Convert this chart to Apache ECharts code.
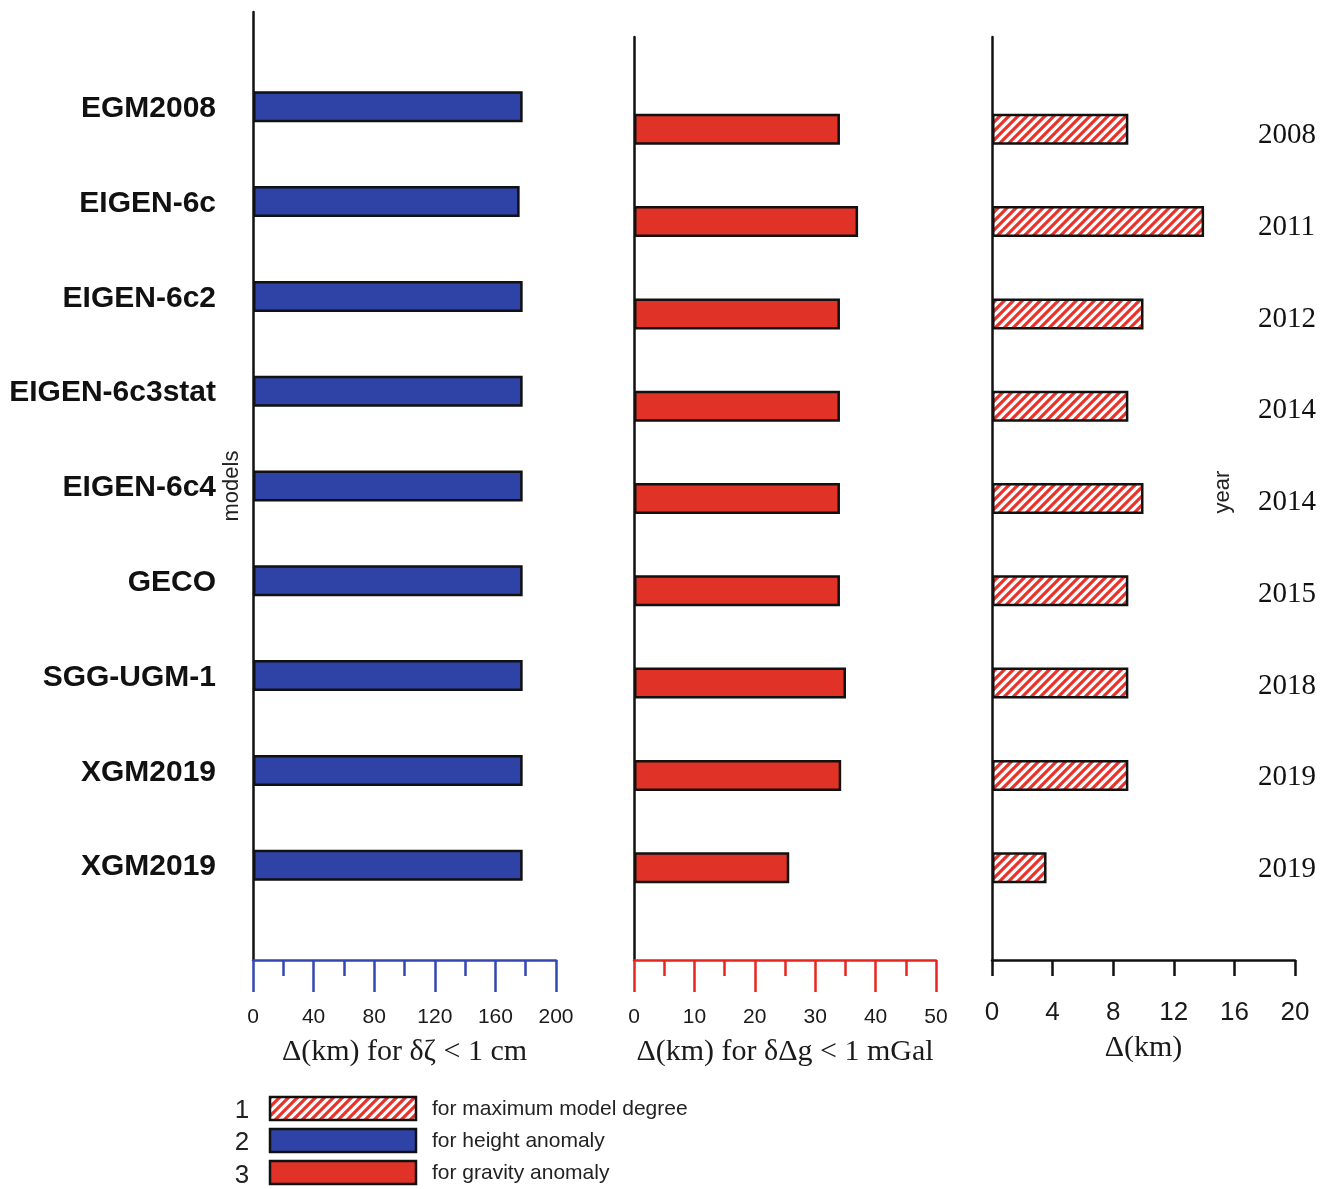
<!DOCTYPE html>
<html>
<head>
<meta charset="utf-8">
<title>Model comparison</title>
<script src="https://cdn.jsdelivr.net/npm/echarts@6/dist/echarts.min.js"></script>
<style>
  html, body { margin: 0; padding: 0; background: #fff; }
  #chart { width: 1334px; height: 1189px; }
</style>
</head>
<body>
<div id="chart"></div>
<script>
// Gravity field models and release years
const models = ['EGM2008', 'EIGEN-6c', 'EIGEN-6c2', 'EIGEN-6c3stat', 'EIGEN-6c4', 'GECO', 'SGG-UGM-1', 'XGM2019', 'XGM2019'];
const years = ['2008', '2011', '2012', '2014', '2014', '2015', '2018', '2019', '2019'];

// Δ(km) for height anomaly (δζ < 1 cm)
const heightAnomaly = [178, 176, 178, 178, 178, 178, 178, 178, 178];
// Δ(km) for gravity anomaly (δΔg < 1 mGal)
const gravityAnomaly = [34.1, 37.1, 34.1, 34.1, 34.1, 34.1, 35.1, 34.3, 25.7];
// Δ(km) for maximum model degree
const maxDegree = [9.0, 14.0, 10.0, 9.0, 10.0, 9.0, 9.0, 9.0, 3.6];

// Tick labels
const heightTicks = [0, 40, 80, 120, 160, 200];
const gravityTicks = [0, 10, 20, 30, 40, 50];
const degreeTicks = [0, 4, 8, 12, 16, 20];

const BLUE = '#2f43a6';
const RED = '#e03226';
const EDGE = '#111';

// Empty slot above and below the models on each category axis
const pad = arr => [''].concat(arr, ['']);
const padVals = arr => [null].concat(arr, [null]);

// Diagonal red hatch tile
function hatchCanvas() {
  const s = 9;
  const c = document.createElement('canvas');
  c.width = s; c.height = s;
  const g = c.getContext('2d');
  g.fillStyle = '#fff';
  g.fillRect(0, 0, s, s);
  g.strokeStyle = '#e8322a';
  g.lineWidth = 3.2;
  g.beginPath();
  g.moveTo(-s, 2 * s); g.lineTo(2 * s, -s);
  g.moveTo(-2 * s, 2 * s); g.lineTo(s, -s);
  g.moveTo(0, 2 * s); g.lineTo(3 * s, -s);
  g.stroke();
  return c;
}
const hatch = hatchCanvas();

const chart = echarts.init(document.getElementById('chart'), null, { renderer: 'canvas' });

const serif = "'Liberation Serif', 'DejaVu Serif', serif";
const sans = "'Liberation Sans', Arial, sans-serif";

function valueAxis(gridIndex, ticks, color, withMinor, tickLen, labelSize, labelMargin, name, nameGap) {
  return {
    type: 'value', gridIndex,
    min: ticks[0], max: ticks[ticks.length - 1], interval: ticks[1] - ticks[0],
    position: 'bottom',
    axisLine: { show: true, lineStyle: { color, width: 2.5 } },
    axisTick: { show: true, length: tickLen, lineStyle: { color, width: 2.5 } },
    minorTick: { show: withMinor, splitNumber: 2, length: tickLen / 2, lineStyle: { color, width: 2.5 } },
    splitLine: { show: false },
    axisLabel: { color: '#1a1a1a', fontSize: labelSize, fontFamily: sans, margin: labelMargin,
                 formatter: v => String(v) },
    name, nameLocation: 'middle', nameGap,
    nameTextStyle: { color: '#1a1a1a', fontSize: 30, fontFamily: serif }
  };
}

// Hidden x axis for the label-only grids
const hiddenX = gridIndex => ({ type: 'value', gridIndex, min: 0, max: 1, show: false });

function catAxis(gridIndex, data, extra) {
  return Object.assign({
    type: 'category', gridIndex, data, inverse: true, boundaryGap: false,
    axisLine: { show: true, lineStyle: { color: EDGE, width: 2.5 } },
    axisTick: { show: false },
    splitLine: { show: false },
    axisLabel: { show: false }
  }, extra || {});
}

chart.setOption({
  animation: false,
  backgroundColor: '#fff',
  grid: [
    { left: 253, top: 12, width: 303, height: 948 },
    { left: 634, top: 37, width: 302, height: 923 },
    { left: 992, top: 37, width: 303, height: 923 },
    // label rows for the model names and the years
    { left: 253, top: 14, width: 303, height: 948 },
    { left: 992, top: 44, width: 303, height: 917 }
  ],
  xAxis: [
    valueAxis(0, heightTicks, '#3447b0', true, 32, 21, 47, 'Δ(km) for δζ < 1 cm', 77),
    valueAxis(1, gravityTicks, '#e8261e', true, 32, 21, 47, 'Δ(km) for δΔg < 1 mGal', 77),
    valueAxis(2, degreeTicks, EDGE, false, 16, 26, 40, 'Δ(km)', 73),
    hiddenX(3),
    hiddenX(4)
  ],
  yAxis: [
    catAxis(0, pad(models)),
    catAxis(1, pad(models)),
    catAxis(2, pad(years)),
    catAxis(3, pad(models), {
      axisLine: { show: false },
      axisLabel: { show: true, color: '#111', fontSize: 30, fontWeight: 'bold', fontFamily: sans, margin: 37 }
    }),
    catAxis(4, pad(years), {
      position: 'right', offset: -37,
      axisLine: { show: false },
      axisLabel: { show: true, color: '#111', fontSize: 29, fontFamily: serif, margin: 0 }
    })
  ],
  series: [
    {
      type: 'bar', xAxisIndex: 0, yAxisIndex: 0, barWidth: 31,
      data: padVals(heightAnomaly),
      itemStyle: { color: BLUE, borderColor: EDGE, borderWidth: 2.5 }
    },
    {
      type: 'bar', xAxisIndex: 1, yAxisIndex: 1, barWidth: 31,
      data: padVals(gravityAnomaly),
      itemStyle: { color: RED, borderColor: EDGE, borderWidth: 2.5 }
    },
    {
      type: 'bar', xAxisIndex: 2, yAxisIndex: 2, barWidth: 31,
      data: padVals(maxDegree),
      itemStyle: { color: { image: hatch, repeat: 'repeat' }, borderColor: EDGE, borderWidth: 2.5 }
    }
  ],
  graphic: [
    // rotated axis titles
    { type: 'text', x: 232, y: 486, rotation: Math.PI / 2,
      style: { text: 'models', fontSize: 22, fontFamily: sans, fill: '#222', align: 'center', verticalAlign: 'middle' } },
    { type: 'text', x: 1223, y: 492, rotation: Math.PI / 2,
      style: { text: 'year', fontSize: 22, fontFamily: sans, fill: '#222', align: 'center', verticalAlign: 'middle' } },
    // legend
    { type: 'text', x: 242, y: 1111, style: { text: '1', fontSize: 26, fontFamily: sans, fill: '#222', align: 'center', verticalAlign: 'middle' } },
    { type: 'text', x: 242, y: 1143, style: { text: '2', fontSize: 26, fontFamily: sans, fill: '#222', align: 'center', verticalAlign: 'middle' } },
    { type: 'text', x: 242, y: 1176, style: { text: '3', fontSize: 26, fontFamily: sans, fill: '#222', align: 'center', verticalAlign: 'middle' } },
    { type: 'rect', shape: { x: 270, y: 1097, width: 146, height: 23 },
      style: { fill: { image: hatch, repeat: 'repeat' }, stroke: EDGE, lineWidth: 2.5 } },
    { type: 'rect', shape: { x: 270, y: 1129, width: 146, height: 23 },
      style: { fill: BLUE, stroke: EDGE, lineWidth: 2.5 } },
    { type: 'rect', shape: { x: 270, y: 1161, width: 146, height: 23 },
      style: { fill: RED, stroke: EDGE, lineWidth: 2.5 } },
    { type: 'text', x: 432, y: 1109, style: { text: 'for maximum model degree', fontSize: 21, fontFamily: sans, fill: '#222', verticalAlign: 'middle' } },
    { type: 'text', x: 432, y: 1141, style: { text: 'for height anomaly', fontSize: 21, fontFamily: sans, fill: '#222', verticalAlign: 'middle' } },
    { type: 'text', x: 432, y: 1173, style: { text: 'for gravity anomaly', fontSize: 21, fontFamily: sans, fill: '#222', verticalAlign: 'middle' } }
  ]
});
</script>
</body>
</html>
